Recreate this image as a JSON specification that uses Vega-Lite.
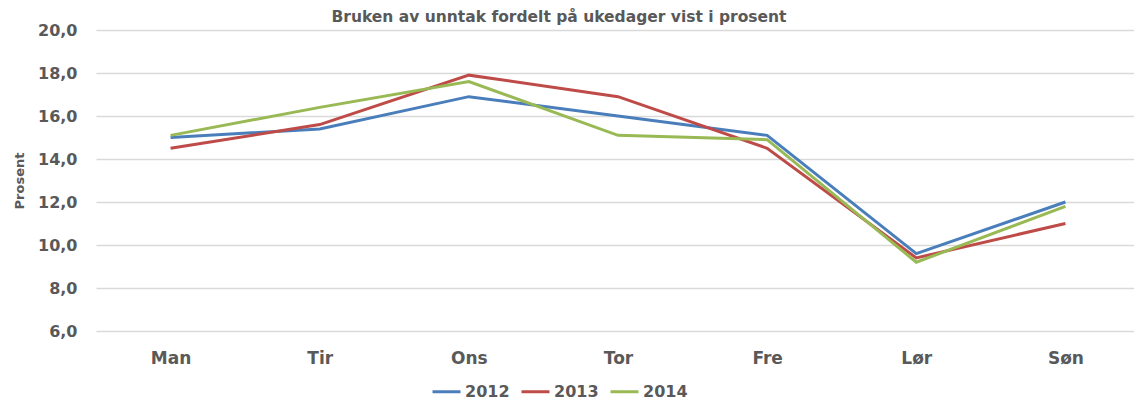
{
  "$schema": "https://vega.github.io/schema/vega-lite/v6.json",
  "autosize": "none",
  "width": 1038,
  "height": 301,
  "padding": {"left": 96, "top": 30, "right": 0, "bottom": 72},
  "background": "white",
  "title": {
    "text": "Bruken av unntak fordelt på ukedager vist i prosent",
    "font": "DejaVu Sans",
    "fontSize": 15.5,
    "fontWeight": "bold",
    "color": "#595959",
    "anchor": "middle",
    "dx": -56,
    "offset": -3
  },
  "data": {
    "values": [
      {"dag": "Man", "aar": "2012", "prosent": 15.0},
      {"dag": "Tir", "aar": "2012", "prosent": 15.4},
      {"dag": "Ons", "aar": "2012", "prosent": 16.9},
      {"dag": "Tor", "aar": "2012", "prosent": 16.0},
      {"dag": "Fre", "aar": "2012", "prosent": 15.1},
      {"dag": "Lør", "aar": "2012", "prosent": 9.6},
      {"dag": "Søn", "aar": "2012", "prosent": 12.0},
      {"dag": "Man", "aar": "2013", "prosent": 14.5},
      {"dag": "Tir", "aar": "2013", "prosent": 15.6},
      {"dag": "Ons", "aar": "2013", "prosent": 17.9},
      {"dag": "Tor", "aar": "2013", "prosent": 16.9},
      {"dag": "Fre", "aar": "2013", "prosent": 14.5},
      {"dag": "Lør", "aar": "2013", "prosent": 9.4},
      {"dag": "Søn", "aar": "2013", "prosent": 11.0},
      {"dag": "Man", "aar": "2014", "prosent": 15.1},
      {"dag": "Tir", "aar": "2014", "prosent": 16.4},
      {"dag": "Ons", "aar": "2014", "prosent": 17.6},
      {"dag": "Tor", "aar": "2014", "prosent": 15.1},
      {"dag": "Fre", "aar": "2014", "prosent": 14.9},
      {"dag": "Lør", "aar": "2014", "prosent": 9.2},
      {"dag": "Søn", "aar": "2014", "prosent": 11.8}
    ]
  },
  "mark": {"type": "line", "strokeWidth": 3},
  "encoding": {
    "x": {
      "field": "dag",
      "type": "nominal",
      "sort": ["Man", "Tir", "Ons", "Tor", "Fre", "Lør", "Søn"],
      "scale": {"type": "point", "range": [0, 1044], "padding": 0.5},
      "axis": {
        "title": null,
        "labelAngle": 0,
        "labelFont": "DejaVu Sans",
        "labelFontSize": 17,
        "labelFontWeight": "bold",
        "labelColor": "#595959",
        "labelPadding": 19,
        "ticks": false,
        "domain": false,
        "grid": false
      }
    },
    "y": {
      "field": "prosent",
      "type": "quantitative",
      "scale": {"domain": [6, 20], "nice": false, "zero": false},
      "axis": {
        "values": [6, 8, 10, 12, 14, 16, 18, 20],
        "labelExpr": "replace(format(datum.value, '.1f'), '.', ',')",
        "title": "Prosent",
        "titleFont": "DejaVu Sans",
        "titleFontSize": 13,
        "titleFontWeight": "bold",
        "titleColor": "#595959",
        "titlePadding": 11,
        "labelFont": "DejaVu Sans",
        "labelFontSize": 16,
        "labelFontWeight": "bold",
        "labelColor": "#595959",
        "labelPadding": 19,
        "ticks": false,
        "domain": false,
        "grid": true,
        "gridColor": "#d9d9d9",
        "gridWidth": 1.5
      }
    },
    "color": {
      "field": "aar",
      "type": "nominal",
      "scale": {"domain": ["2012", "2013", "2014"], "range": ["#4a7ebb", "#be4b48", "#98b954"]},
      "legend": {
        "title": null,
        "orient": "none",
        "direction": "horizontal",
        "legendX": 335,
        "legendY": 346,
        "symbolType": "stroke",
        "symbolStrokeWidth": 3,
        "symbolSize": 784,
        "labelFont": "DejaVu Sans",
        "labelFontSize": 16,
        "labelFontWeight": "bold",
        "labelColor": "#595959",
        "labelOffset": 3,
        "columnPadding": 5
      }
    }
  },
  "config": {"view": {"stroke": null}}
}
